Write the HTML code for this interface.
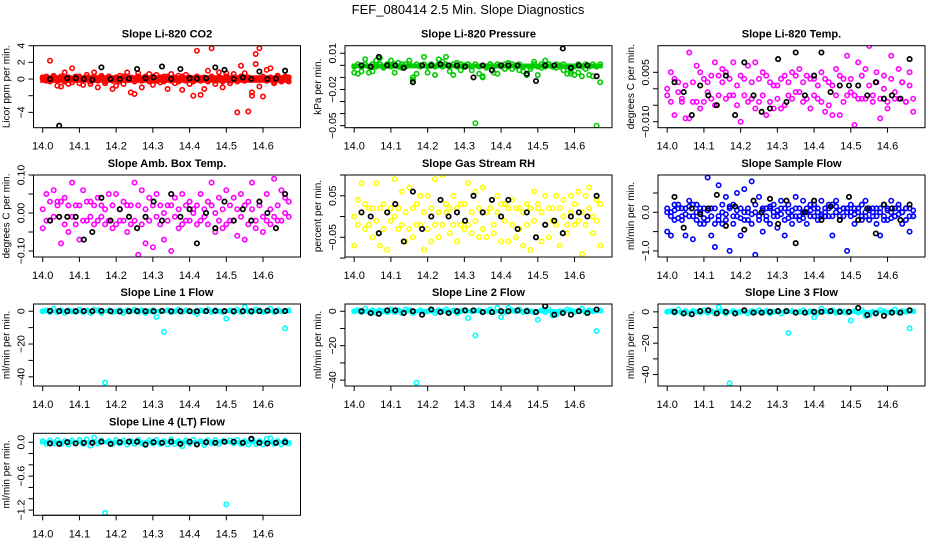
<!DOCTYPE html>
<html><head><meta charset="utf-8"><style>
html,body{margin:0;padding:0;background:#fff}
svg{display:block}
text{font-family:"Liberation Sans",sans-serif}
</style></head><body>
<svg id="chart" width="936" height="540" viewBox="0 0 936 540" xmlns="http://www.w3.org/2000/svg">
<text x="468" y="14" text-anchor="middle" font-size="13">FEF_080414  2.5 Min. Slope Diagnostics</text>
</svg>
<script>
// ---- data ----
const times = [14.00,14.01,14.02,14.03,14.04,14.05,14.06,14.07,14.08,14.09,14.10,14.11,14.12,14.13,14.14,14.15,14.16,14.17,14.18,14.19,14.20,14.21,14.22,14.23,14.24,14.25,14.26,14.27,14.28,14.29,14.30,14.31,14.32,14.33,14.34,14.35,14.36,14.37,14.38,14.39,14.40,14.41,14.42,14.43,14.44,14.45,14.46,14.47,14.48,14.49,14.50,14.51,14.52,14.53,14.54,14.55,14.56,14.57,14.58,14.59,14.60,14.61,14.62,14.63,14.64,14.65,14.66,14.67];
const blackTimes = [14.02,14.045,14.067,14.09,14.112,14.135,14.16,14.185,14.21,14.235,14.257,14.28,14.302,14.325,14.35,14.375,14.40,14.42,14.445,14.47,14.495,14.52,14.545,14.568,14.59,14.612,14.635,14.66];
const xTicks = [14.0,14.1,14.2,14.3,14.4,14.5,14.6];

const co2 = [0.1,-0.2,2.2,0.4,-0.8,-0.9,0.8,-0.6,1.3,0.3,-0.5,-0.7,0.5,-0.6,0.8,-1.0,0.4,-0.5,0.3,-1.2,-0.8,0.4,-0.6,0.8,-1.6,-1.8,0.7,-1.0,0.3,0.6,-0.7,0.5,-0.4,0.3,-1.2,0.6,-0.5,0.4,-1.3,0.5,-0.6,-2.0,3.4,-1.9,-1.2,1.0,3.7,-0.6,0.8,-1.0,0.7,-0.5,0.6,-4.0,1.6,0.7,-3.9,-2.0,1.8,3.7,-2.1,1.1,1.3,-0.5,0.4,-0.3,0.3,0.2];
const co2B = [0.2,0.3,-0.3,0.2,-0.2,0.3,-0.3,0.2,-0.4,0.1,0.3,-0.2,0.2,-0.3,0.3,-0.2,0.2,-0.3,0.3,-0.2,0.2,-0.3,0.3,-0.1,0.2,-0.3,0.3,-0.2,0.2,-0.3,0.3,-0.2,0.2,-0.3,0.3,-0.2,0.2,-0.3,0.3,-0.2,0.2,-0.3,0.3,-0.2,0.2,-0.3,0.3,-0.2,0.2,-0.3,0.3,-0.2,0.2,-0.3,0.3,-0.2,0.2,-1.6,3.0,-0.9,0.3,-0.2,0.2,-0.3,0.3,-0.2,0.2,-0.3];
const co2Black = [0.0,-5.6,0.1,0.1,0.0,-0.1,1.4,0.0,0.0,0.05,1.2,0.1,0.2,1.5,0.0,1.2,0.1,0.05,0.1,1.4,1.1,0.0,0.2,0.0,0.9,0.0,0.05,1.0];

const pres = [-0.006,-0.007,-0.005,0.005,-0.006,-0.005,0.004,0.006,-0.002,0.001,0.004,-0.006,0.002,-0.002,0.001,0.004,-0.010,-0.007,0.000,0.007,-0.006,0.001,-0.008,0.005,0.003,0.007,-0.005,-0.008,0.002,-0.004,0.000,0.001,-0.004,-0.048,-0.007,-0.010,-0.002,0.001,-0.006,-0.007,0.000,-0.003,0.002,-0.003,0.000,-0.004,-0.005,-0.008,-0.003,0.003,-0.008,-0.002,0.004,0.001,-0.001,-0.002,0.000,-0.004,-0.007,-0.005,-0.008,-0.006,-0.009,-0.003,-0.008,-0.009,-0.050,-0.014];
const presB = [-0.001,0.001,-0.001,0.001,-0.001,0.001,-0.001,0.001,-0.001,0.001,-0.001,0.001,-0.001,0.001,-0.001,0.001,-0.012,0.001,-0.001,0.001,-0.001,0.001,-0.001,0.001,-0.001,0.001,-0.001,0.001,-0.001,0.001,-0.001,0.001,-0.001,0.001,-0.001,-0.009,-0.001,0.001,-0.001,0.001,-0.001,0.001,-0.001,0.001,-0.001,0.001,-0.001,-0.008,-0.001,0.001,-0.001,0.001,-0.001,0.001,-0.001,0.001,-0.001,0.001,-0.001,-0.007,-0.001,0.001,-0.001,0.001,-0.001,0.001,-0.001,0.001];
const presBlack = [0.000,-0.001,0.007,0.000,0.000,-0.002,-0.014,0.000,0.000,0.001,0.000,0.000,-0.001,-0.010,0.000,-0.004,0.000,0.000,0.000,-0.007,-0.013,0.000,0.000,0.014,-0.002,0.000,0.000,-0.009];

const tempA = [0.000,0.005,-0.008,0.002,-0.003,-0.009,0.011,-0.004,0.007,0.005,-0.004,0.002,-0.003,0.008,0.004,0.002,0.005,-0.002,0.008,0.001,-0.010,0.003,0.007,-0.003,0.008,-0.004,0.005,-0.008,0.002,-0.006,0.001,-0.006,0.004,-0.002,0.005,-0.001,0.006,-0.004,0.004,-0.006,0.003,-0.003,0.005,-0.007,0.002,-0.008,0.006,-0.008,0.003,0.010,-0.001,-0.011,0.008,-0.003,0.006,0.013,-0.002,0.005,-0.009,0.004,-0.006,0.010,-0.003,0.006,0.002,-0.004,0.005,-0.007];
const tempB = [-0.002,-0.004,0.003,-0.001,-0.004,0.001,-0.009,0.002,-0.004,-0.006,0.003,-0.001,0.004,-0.005,-0.002,0.006,-0.003,0.003,-0.002,-0.005,0.004,-0.002,-0.004,0.002,-0.006,0.003,-0.002,0.004,-0.004,0.001,-0.003,0.003,-0.005,0.002,-0.003,0.004,-0.001,0.002,-0.003,0.003,-0.002,0.001,-0.004,0.003,-0.005,0.001,-0.002,0.004,-0.004,-0.002,0.003,-0.002,-0.003,0.004,-0.003,0.001,-0.004,0.002,-0.003,0.000,-0.004,0.003,-0.001,-0.003,0.002,-0.004,0.001,-0.003];
const tempBlack = [0.002,-0.001,-0.008,0.001,-0.002,-0.005,0.004,-0.008,0.008,-0.002,-0.007,-0.006,0.009,-0.004,0.011,-0.002,0.004,0.011,-0.001,0.001,0.001,0.001,-0.002,0.002,-0.003,-0.002,-0.003,0.009];

const ambA = [-0.04,0.05,-0.02,0.06,0.03,-0.08,0.04,-0.05,0.08,0.02,-0.07,0.06,-0.02,0.03,-0.03,0.04,0.02,-0.03,0.05,-0.04,0.05,-0.02,0.03,-0.05,0.02,0.08,-0.11,0.06,-0.08,0.04,-0.09,0.05,-0.03,-0.07,0.02,-0.10,0.04,-0.04,0.05,-0.02,0.03,0.01,-0.03,0.05,-0.01,0.03,0.08,-0.05,0.04,-0.04,0.06,-0.02,0.04,-0.06,0.05,-0.07,0.03,0.08,-0.04,0.03,-0.05,0.05,-0.03,0.09,-0.02,0.06,0.04,0.03];
const ambB = [0.01,-0.02,0.03,-0.01,0.02,0.03,-0.03,0.02,-0.01,-0.03,0.02,-0.02,0.03,-0.01,0.02,-0.02,-0.01,0.01,-0.02,0.02,-0.03,0.01,-0.02,0.02,-0.03,-0.02,0.02,-0.03,0.01,-0.02,0.02,-0.01,0.02,0.00,-0.02,0.02,-0.01,0.01,-0.03,0.02,-0.02,0.00,0.02,-0.02,0.01,-0.03,0.02,0.00,-0.02,0.01,-0.03,0.02,-0.02,0.01,-0.01,0.02,-0.03,0.01,-0.02,0.02,-0.01,-0.02,0.01,-0.01,0.02,-0.02,0.00,-0.01];
const ambBlack = [-0.02,-0.01,-0.01,-0.01,-0.07,-0.05,0.04,-0.02,0.01,-0.01,-0.04,-0.01,0.03,-0.02,0.05,-0.01,0.01,-0.08,0.00,-0.04,0.03,-0.02,0.01,-0.02,0.03,0.00,-0.04,0.05];

const rhA = [-0.07,0.04,0.08,-0.03,0.02,-0.05,0.08,-0.07,0.03,-0.08,0.02,0.09,-0.03,0.06,-0.06,0.07,-0.05,-0.02,0.05,-0.08,0.05,-0.06,0.09,-0.05,0.10,0.01,-0.04,0.05,-0.06,0.03,-0.03,0.08,-0.04,0.06,-0.05,0.07,-0.05,0.02,-0.04,0.05,-0.06,0.03,-0.06,0.04,-0.05,0.02,-0.07,0.03,-0.08,0.06,0.02,-0.06,0.05,-0.05,0.02,0.05,-0.07,0.04,-0.04,0.05,-0.02,0.06,-0.09,0.05,0.07,-0.04,0.04,-0.07];
const rhB = [0.00,-0.02,0.01,0.03,-0.02,0.02,-0.01,0.02,-0.03,0.01,-0.01,0.00,0.02,-0.02,0.01,-0.03,0.02,0.03,-0.02,0.01,-0.03,0.02,-0.02,0.01,-0.02,0.03,0.02,-0.02,0.02,-0.02,0.03,-0.02,0.01,-0.01,0.02,-0.03,0.01,0.02,-0.02,0.01,0.03,-0.01,0.02,-0.02,0.02,-0.03,0.01,-0.02,0.02,-0.01,0.03,0.01,-0.02,0.02,-0.01,-0.02,0.02,0.00,-0.02,0.01,0.03,-0.01,0.01,-0.02,0.02,0.00,-0.01,0.03];
const rhBlack = [0.01,0.00,-0.04,0.01,0.03,-0.06,0.06,-0.03,0.00,0.04,0.00,0.01,-0.01,0.05,0.01,0.04,0.00,0.04,-0.03,0.01,-0.05,-0.02,-0.01,-0.04,0.00,0.01,0.00,0.05];

const flowA = [-0.5,-0.6,0.2,0.1,-0.2,-0.6,0.3,-0.7,0.2,-0.3,0.1,0.9,-0.6,-0.9,0.7,-0.3,0.4,-1.0,0.2,0.5,-0.6,0.6,-0.2,0.8,-1.1,0.4,-0.5,0.1,-0.3,0.2,-0.4,0.3,-0.6,0.2,-0.3,0.4,-0.2,0.3,-0.3,0.2,0.1,-0.2,0.3,-0.1,0.2,-0.6,0.3,-0.2,0.1,-1.0,0.2,-0.3,0.1,-0.2,0.3,-0.2,0.1,-0.3,-0.6,0.2,-0.2,0.3,-0.1,0.2,-0.3,0.1,-0.5,-0.1];
const flowB = [0.1,0.0,-0.2,0.2,-0.1,0.1,-0.1,0.2,-0.2,0.0,-0.3,-0.2,0.1,-0.3,-0.1,0.2,-0.2,0.1,-0.3,-0.1,0.1,-0.2,0.0,-0.3,0.2,-0.1,0.1,-0.2,0.1,0.0,-0.1,0.1,-0.2,0.0,-0.1,0.1,-0.1,0.0,0.1,-0.1,0.2,0.0,-0.1,0.1,-0.1,0.2,0.0,-0.1,0.1,0.0,-0.1,0.1,0.0,0.2,-0.1,0.1,0.0,-0.1,0.1,-0.2,0.1,0.0,-0.1,0.1,0.0,-0.2,0.1,-0.1];
const flowC = [0.0,-0.1,0.05,-0.15,0.1,-0.05,0.15,-0.1,0.0,0.1,-0.15,0.05,-0.1,0.1,-0.2,0.0,-0.05,0.15,-0.1,0.05,-0.15,0.0,0.1,-0.05,0.0,-0.2,0.05,-0.1,0.15,-0.1,0.05,-0.05,0.1,-0.15,0.05,-0.1,0.1,-0.15,0.0,0.05,-0.1,0.1,-0.05,0.0,0.1,-0.1,0.15,0.05,-0.1,0.1,0.0,-0.05,0.1,-0.1,0.0,0.05,-0.1,0.1,0.0,-0.1,0.05,-0.15,0.1,-0.05,0.0,0.1,-0.1,0.05];
const flowBlack = [0.4,-0.4,0.1,-0.05,0.1,0.45,-0.35,0.15,-0.45,0.3,0.0,0.35,-0.3,0.3,-0.8,0.0,0.3,-0.2,0.15,-0.2,0.4,-0.2,0.1,-0.55,0.2,0.1,-0.2,0.2];

const line1 = [0,0.5,-0.5,1.5,-0.5,0.5,-1,0.5,0,-0.5,1,-0.5,0.5,-1,1,0.5,-1,-43.5,0.5,-0.5,0,0.5,-1,0.5,0,1,-0.5,0.5,-1,0,0.5,-3.5,0,-12.5,0.5,-0.5,0,1,-0.5,0.5,0,-0.5,-1.5,0.5,0,1,-0.5,0.5,0,-0.5,-4.5,0.5,-0.5,1,-0.5,2.5,0,-0.5,1,0.5,-0.5,0,1.5,-0.5,0.5,0,-10.5,0.5];
const line1Black = [0.2,0.1,0,0,0.1,0,0.2,0,-0.1,0,0.1,0,0,0.2,0,0,0,0,0.1,0.2,0.1,0,0,0,0.1,0.3,0,0.1];
const line2 = [0,0.5,-0.5,1.5,-0.5,0.5,-1,0.5,0,-0.5,1,-0.5,0.5,-1,1,0.5,-1,-41.5,0.5,-0.5,0,0.5,-1,0.5,0,1,-0.5,0.5,-1,0,0.5,-4,0,-14,0.5,-0.5,0,1,-0.5,2,-3.5,-0.5,2,0.5,0,1,-0.5,0.5,0,-0.5,-5,0.5,-0.5,1,-2.5,-2,0,-0.5,1,0.5,-0.5,0,1.5,-0.5,0.5,0,-11.5,0.5];
const line2Black = [0,-1,-1.5,0.5,0.5,-1,0,-2,1,-0.5,-1,0,0.5,0.5,-0.5,-0.5,0,0,0.5,0,-0.5,3,-2,-1,-2,0,-1,1];
const line3 = [0,0.5,-0.5,1.5,-0.5,0.5,-1,0.5,0,-0.5,1,-0.5,0.5,-1,3,0.5,-1,-45.5,0.5,-0.5,0,0.5,-1,0.5,0,1,-0.5,0.5,-1,0,0.5,-1,0,-13.5,0.5,-0.5,0,1,-0.5,0.5,-3.5,-0.5,2,0.5,0,1,-0.5,0.5,0,-0.5,-5.5,0.5,-0.5,1,-2.5,-2,0,-0.5,1,0.5,-0.5,0,1.5,-0.5,0.5,0,-10.5,0.5];
const line3Black = [0,-1,-1.5,0.5,1,-1,0,-1,1,-0.5,-0.5,0,0.5,0.5,-0.5,-0.5,0,0,0.5,0,0,2.5,-2,-1,-2.5,-0.5,-0.5,1];
const lineLT = [0.02,-0.03,0.03,-0.02,0.04,-0.03,0.02,-0.04,0.03,-0.02,0.04,-0.03,0.05,-0.06,0.08,-0.02,0.03,-1.25,0.02,-0.03,0.04,-0.02,0.03,-0.04,0.02,-0.03,0.04,-0.02,-0.05,0.03,-0.02,0.04,-0.03,0.02,-0.04,0.05,-0.03,0.02,-0.07,0.03,-0.02,0.04,-0.03,0.02,-0.05,0.03,-0.02,0.04,-0.03,0.02,-1.10,0.03,-0.02,0.04,-0.03,0.02,-0.04,0.05,-0.03,0.02,-0.04,0.06,0.07,-0.03,0.02,-0.04,0.03,-0.02];
const lineLTBlack = [-0.02,-0.03,0.00,-0.02,-0.01,-0.01,0.01,-0.03,0.00,0.01,0.01,-0.04,0.00,-0.01,0.01,-0.03,0.01,-0.04,0.00,-0.01,0.01,0.01,-0.01,0.06,-0.01,-0.02,-0.01,0.00];

// y tick values and labels
const ticks1 = [4,2,0,-2,-4];           const tickLabels1 = ["4","2","0","","-4"];
const ticks2 = [0.01,0,-0.01,-0.02,-0.03,-0.04,-0.05]; const tickLabels2 = ["0.01","","","-0.02","","","-0.05"];
const ticks3 = [0.005,0,-0.005,-0.010]; const tickLabels3 = ["0.005","","","-0.010"];
const ticks4 = [0.10,0.05,0,-0.05,-0.10]; const tickLabels4 = ["0.10","","0.00","","-0.10"];
const ticks5 = [0.10,0.05,0,-0.05,-0.10]; const tickLabels5 = ["","0.05","","-0.05",""];
const ticks6 = [0.5,0,-0.5,-1.0]; const tickLabels6 = ["","0.0","","-1.0"];
const ticks7 = [0,-10,-20,-30,-40]; const tickLabels7 = ["0","","-20","","-40"];
const ticks10 = [0,-0.2,-0.4,-0.6,-0.8,-1.0,-1.2]; const tickLabels10 = ["0.0","","","-0.6","","","-1.2"];

// ---- layout ----
const colL = [33.5,345,658], boxW = 267;
const rowT = [45.7,175,304,433.3], boxH = 82;
const xLo = 13.975, xHi = 14.702;
const svg = document.getElementById('chart');
const NS = 'http://www.w3.org/2000/svg';
function mk(tag, attrs, parent){const e=document.createElementNS(NS,tag);for(const k in attrs)e.setAttribute(k,attrs[k]);(parent||svg).appendChild(e);return e;}

function panel(o){
  const L=colL[o.col], T=rowT[o.row], R=L+boxW, B=T+boxH;
  const g=mk('g',{});
  
  
  const xs=v=>L+(v-xLo)/(xHi-xLo)*boxW;
  const ys=v=>B-(v-o.lo)/(o.hi-o.lo)*boxH;
  const clip=mk('clipPath',{id:'c'+o.id},g); mk('rect',{x:L,y:T,width:boxW,height:boxH},clip);
  const pts=mk('g',{'clip-path':'url(#c'+o.id+')'},g);
  
  
  if(o.band){
    const b=mk('rect',{x:xs(times[0])-2.5,y:ys(o.band[1]),width:xs(times[times.length-1])-xs(times[0])+5,height:ys(o.band[0])-ys(o.band[1]),fill:o.color},pts);
    
    
  }
  o.series.forEach(arr=>{
    arr.forEach((v,i)=>{ if(i>=times.length) return;
      const c=mk('circle',{cx:xs(times[i]).toFixed(1),cy:ys(v).toFixed(1),r:2.2,fill:'none',stroke:o.color,'stroke-width':1.6},pts);
      
      
    });
  });
  o.black.forEach((v,i)=>{ if(i>=blackTimes.length) return;
    const c=mk('circle',{cx:xs(blackTimes[i]).toFixed(1),cy:ys(v).toFixed(1),r:2.2,fill:'none',stroke:'#000','stroke-width':1.7},pts);
    
    
  });
  const box=mk('rect',{x:L,y:T,width:boxW,height:boxH,fill:'none',stroke:'#000','stroke-width':1},g);
  
  
  mk('line',{x1:xs(xTicks[0]),x2:xs(xTicks[xTicks.length-1]),y1:B,y2:B,stroke:'#000'},g);
  xTicks.forEach(t=>{
    mk('line',{x1:xs(t),x2:xs(t),y1:B,y2:B+5,stroke:'#000'},g);
    const tx=mk('text',{x:xs(t),y:B+22,'text-anchor':'middle','font-size':11},g);
    tx.textContent=t.toFixed(1);
    
    
  });
  o.ticks.forEach((t,i)=>{
    const y=ys(t);
    mk('line',{x1:L-5,x2:L,y1:y,y2:y,stroke:'#000'},g);
    if(o.labels[i]){
      const tx=mk('text',{x:0,y:0,'text-anchor':'middle','font-size':10.5,transform:`translate(${L-9},${y}) rotate(-90)`},g);
      tx.textContent=o.labels[i].replace('-','\u2212');
      
      
    }
  });
  mk('line',{x1:L,x2:L,y1:ys(o.ticks[0]),y2:ys(o.ticks[o.ticks.length-1]),stroke:'#000'},g);
  const yl=mk('text',{x:0,y:0,'text-anchor':'middle','font-size':10,transform:`translate(${L-24},${T+boxH/2}) rotate(-90)`},g);
  yl.textContent=o.ylab;
  
  
  const ti=mk('text',{x:L+boxW/2,y:T-8,'text-anchor':'middle','font-size':11,'font-weight':'bold'},g);
  ti.textContent=o.title;
  
  
}

panel({id:'co2',row:0,col:0,lo:-5.84,hi:4,color:'#ff0000',band:[-0.45,0.45],series:[co2,co2B],black:co2Black,ticks:ticks1,labels:tickLabels1,ylab:'Licor ppm per min.',title:'Slope Li-820 CO2'});
panel({id:'pressure',row:0,col:1,lo:-0.0517,hi:0.0163,color:'#00cc00',band:[-0.0025,0.0015],series:[pres,presB],black:presBlack,ticks:ticks2,labels:tickLabels2,ylab:'kPa per min.',title:'Slope Li-820 Pressure'});
panel({id:'licor-temp',row:0,col:2,lo:-0.01182,hi:0.01308,color:'#ff00ff',series:[tempA,tempB],black:tempBlack,ticks:ticks3,labels:tickLabels3,ylab:'degrees C per min.',title:'Slope Li-820 Temp.'});
panel({id:'amb-temp',row:1,col:0,lo:-0.1158,hi:0.10,color:'#ff00ff',series:[ambA,ambB],black:ambBlack,ticks:ticks4,labels:tickLabels4,ylab:'degrees C per min.',title:'Slope Amb. Box Temp.'});
panel({id:'rh',row:1,col:1,lo:-0.0974,hi:0.10,color:'#ffff00',series:[rhA,rhB],black:rhBlack,ticks:ticks5,labels:tickLabels5,ylab:'percent per min.',title:'Slope Gas Stream RH'});
panel({id:'sample-flow',row:1,col:2,lo:-1.158,hi:0.966,color:'#0000ff',series:[flowA,flowB,flowC],black:flowBlack,ticks:ticks6,labels:tickLabels6,ylab:'ml/min per min.',title:'Slope Sample Flow'});
panel({id:'line1',row:2,col:0,lo:-45.6,hi:4.4,color:'#00ffff',band:[-1.2,1.2],series:[line1],black:line1Black,ticks:ticks7,labels:tickLabels7,ylab:'ml/min per min.',title:'Slope Line 1 Flow'});
panel({id:'line2',row:2,col:1,lo:-43.4,hi:4.2,color:'#00ffff',band:[-1.2,1.2],series:[line2],black:line2Black,ticks:ticks7,labels:tickLabels7,ylab:'ml/min per min.',title:'Slope Line 2 Flow'});
panel({id:'line3',row:2,col:2,lo:-47.3,hi:5.0,color:'#00ffff',band:[-1.2,1.2],series:[line3],black:line3Black,ticks:ticks7,labels:tickLabels7,ylab:'ml/min per min.',title:'Slope Line 3 Flow'});
panel({id:'line4',row:3,col:0,lo:-1.293,hi:0.158,color:'#00ffff',band:[-0.035,0.035],series:[lineLT],black:lineLTBlack,ticks:ticks10,labels:tickLabels10,ylab:'ml/min per min.',title:'Slope Line 4 (LT) Flow'});
</script>
</body></html>
